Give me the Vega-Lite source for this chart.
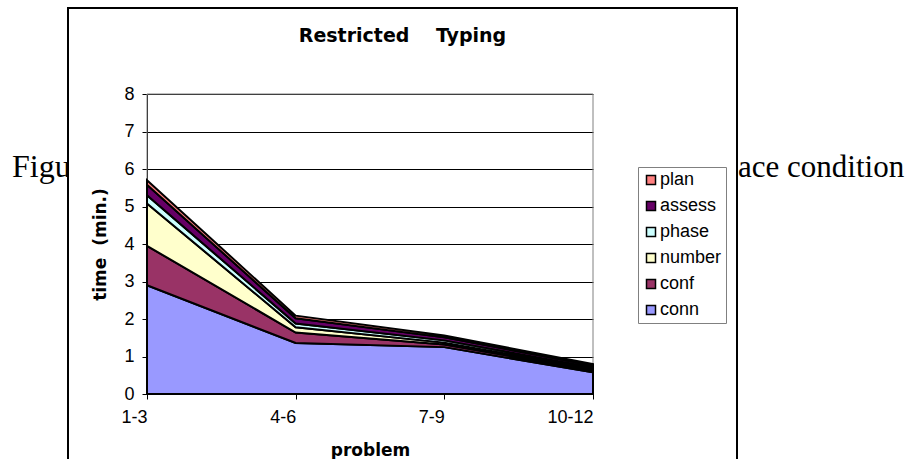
{
  "$schema": "https://vega.github.io/schema/vega-lite/v6.json",
  "autosize": {"type": "pad"},
  "padding": {"left": 0, "right": 0, "top": 7, "bottom": -10},
  "background": "white",
  "spacing": 0,
  "bounds": "flush",
  "hconcat": [
    {
      "width": 68,
      "height": 337,
      "view": {"stroke": null},
      "data": {"values": [{"txt": "Figu"}]},
      "mark": {"type": "text", "font": "Liberation Serif", "fontSize": 32, "align": "left", "baseline": "alphabetic", "dx": -22, "clip": true, "color": "black"},
      "encoding": {"text": {"field": "txt"}}
    },
    {
      "width": 669,
      "height": 460,
      "view": {"stroke": "black", "strokeWidth": 2, "fill": "white"},
      "title": {
        "text": "Restricted\u00a0\u00a0\u00a0\u00a0Typing",
        "font": "DejaVu Sans",
        "fontWeight": "bold",
        "fontSize": 19,
        "color": "black",
        "anchor": "middle",
        "offset": -38
      },
      "layer": [
        {
          "data": {"values": [{}]},
          "mark": {"type": "rect", "fillOpacity": 0, "stroke": "#808080", "strokeWidth": 1},
          "encoding": {
            "x": {"datum": "1-3"},
            "x2": {"datum": "10-12"},
            "y": {"datum": 0},
            "y2": {"datum": 8}
          }
        },
        {
          "data": {
            "values": [
              {"problem": "1-3", "activity": "conn", "rank": 1, "time": 2.90},
              {"problem": "1-3", "activity": "conf", "rank": 2, "time": 1.05},
              {"problem": "1-3", "activity": "number", "rank": 3, "time": 1.13},
              {"problem": "1-3", "activity": "phase", "rank": 4, "time": 0.22},
              {"problem": "1-3", "activity": "assess", "rank": 5, "time": 0.28},
              {"problem": "1-3", "activity": "plan", "rank": 6, "time": 0.12},
              {"problem": "4-6", "activity": "conn", "rank": 1, "time": 1.36},
              {"problem": "4-6", "activity": "conf", "rank": 2, "time": 0.28},
              {"problem": "4-6", "activity": "number", "rank": 3, "time": 0.14},
              {"problem": "4-6", "activity": "phase", "rank": 4, "time": 0.10},
              {"problem": "4-6", "activity": "assess", "rank": 5, "time": 0.14},
              {"problem": "4-6", "activity": "plan", "rank": 6, "time": 0.07},
              {"problem": "7-9", "activity": "conn", "rank": 1, "time": 1.25},
              {"problem": "7-9", "activity": "conf", "rank": 2, "time": 0.07},
              {"problem": "7-9", "activity": "number", "rank": 3, "time": 0.05},
              {"problem": "7-9", "activity": "phase", "rank": 4, "time": 0.06},
              {"problem": "7-9", "activity": "assess", "rank": 5, "time": 0.08},
              {"problem": "7-9", "activity": "plan", "rank": 6, "time": 0.05},
              {"problem": "10-12", "activity": "conn", "rank": 1, "time": 0.58},
              {"problem": "10-12", "activity": "conf", "rank": 2, "time": 0.04},
              {"problem": "10-12", "activity": "number", "rank": 3, "time": 0.04},
              {"problem": "10-12", "activity": "phase", "rank": 4, "time": 0.05},
              {"problem": "10-12", "activity": "assess", "rank": 5, "time": 0.05},
              {"problem": "10-12", "activity": "plan", "rank": 6, "time": 0.04}
            ]
          },
          "mark": {"type": "area", "stroke": "black", "strokeWidth": 2, "opacity": 1, "fillOpacity": 1},
          "encoding": {
            "x": {
              "field": "problem",
              "type": "ordinal",
              "sort": ["1-3", "4-6", "7-9", "10-12"],
              "scale": {"type": "point", "range": [79, 525], "padding": 0},
              "axis": {
                "title": "problem",
                "titleFont": "DejaVu Sans",
                "titleFontWeight": "bold",
                "titleFontSize": 17,
                "titleColor": "black",
                "titlePadding": 16,
                "labelFont": "Liberation Sans",
                "labelFontSize": 18,
                "labelColor": "black",
                "labelPadding": 18,
                "labelAngle": 0,
                "tickColor": "black",
                "tickSize": 5,
                "domainColor": "black",
                "offset": -74,
                "grid": false
              }
            },
            "y": {
              "field": "time",
              "type": "quantitative",
              "stack": "zero",
              "scale": {"domain": [0, 8], "range": [386, 86], "nice": false},
              "axis": {
                "title": "time\u00a0\u00a0(min.)",
                "titleFont": "DejaVu Sans",
                "titleFontWeight": "bold",
                "titleFontSize": 17,
                "titleColor": "black",
                "titlePadding": 14,
                "labelFont": "Liberation Sans",
                "labelFontSize": 18,
                "labelColor": "black",
                "labelPadding": 8,
                "format": "d",
                "tickColor": "black",
                "tickSize": 5,
                "domainColor": "black",
                "values": [0, 1, 2, 3, 4, 5, 6, 7, 8],
                "offset": -79,
                "grid": true,
                "gridColor": "black",
                "gridWidth": 1,
                "gridOpacity": 1
              }
            },
            "order": {"field": "rank", "type": "quantitative", "sort": "ascending"},
            "color": {
              "field": "activity",
              "type": "nominal",
              "sort": ["plan", "assess", "phase", "number", "conf", "conn"],
              "scale": {"range": ["#FF8080", "#660066", "#CCFFFF", "#FFFFCC", "#993366", "#9999FF"]},
              "legend": {
                "title": null,
                "orient": "none",
                "legendX": 638,
                "legendY": 159,
                "padding": 4,
                "symbolOffset": 0,
                "symbolType": "square",
                "symbolSize": 81,
                "symbolStrokeColor": "black",
                "symbolStrokeWidth": 1.5,
                "symbolOpacity": 1,
                "labelFont": "Liberation Sans",
                "labelFontSize": 18,
                "labelColor": "black",
                "labelOffset": 0,
                "rowPadding": 8,
                "strokeColor": "#808080",
                "fillColor": "white"
              }
            }
          }
        }
      ]
    },
    {
      "width": 172,
      "height": 337,
      "view": {"stroke": null},
      "data": {"values": [{"txt": "ace condition"}]},
      "mark": {"type": "text", "font": "Liberation Serif", "fontSize": 31, "align": "left", "baseline": "alphabetic", "dx": -85, "color": "black"},
      "encoding": {"text": {"field": "txt"}}
    }
  ]
}
